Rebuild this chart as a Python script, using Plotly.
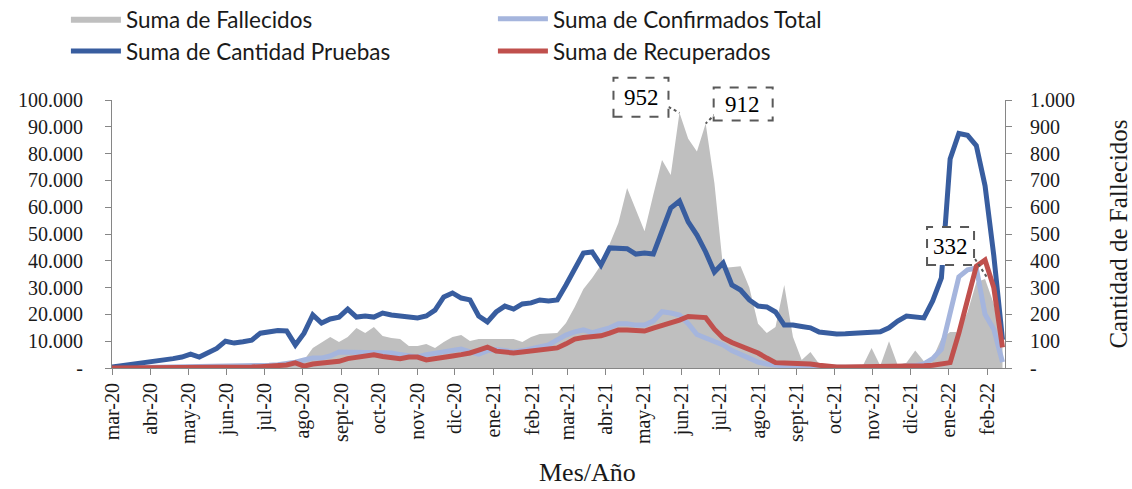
import pandas as pd
import plotly.graph_objects as go

# ---------------- data (weekly) ----------------
fechas = pd.date_range("2020-03-01", periods=103, freq="7D")

fallecidos = [0, 0, 0, 1, 1, 2, 2, 3, 3, 4, 4, 5, 5, 6, 6, 7, 7, 8, 8, 9, 9,
              12, 30, 75, 95, 116, 97, 116, 149, 131, 153, 119, 112, 108, 82, 82,
              90, 75, 97, 116, 123, 101, 108, 108, 108, 110, 108, 97, 116, 127, 130,
              131, 168, 228, 295, 336, 384, 460, 541, 672, 590, 510, 646, 776, 720,
              952, 855, 808, 912, 690, 373, 377, 380, 300, 165, 131, 153, 310, 116,
              30, 60, 15, 10, 5, 10, 5, 8, 75, 8, 100, 10, 20, 65, 25, 35, 110, 134,
              134, 209, 320, 332, 240, 80]

confirmados = [0, 30, 60, 100, 150, 200, 250, 300, 350, 400, 450, 500, 550, 600, 650,
               700, 800, 900, 1000, 1200, 1500, 2200, 3000, 3700, 3700, 4500, 6000,
               6000, 5800, 5600, 5800, 6000, 5600, 5000, 4600, 4100, 5000, 5600, 6200,
               6700, 7100, 6000, 5200, 6500, 6900, 6500, 6000, 6500, 7100, 7800, 8600,
               10500, 12300, 13500, 14200, 13200, 14200, 15000, 16500, 16500, 16000,
               16000, 17500, 21000, 20500, 19800, 16500, 12500, 11200, 10000, 8600,
               6500, 5000, 3500, 2200, 1500, 1000, 600, 400, 300, 250, 200, 200, 200,
               200, 200, 200, 200, 250, 300, 400, 600, 900, 1500, 3500, 7000, 21000,
               34000, 36600, 37300, 20000, 14500, 2200]

pruebas = [400, 800, 1400, 1900, 2200, 2500, 2900, 3500, 4100, 5200, 4100, 5600, 7300,
           10000, 9300, 9800, 10400, 13000, 13300, 14000, 13800, 8600, 13000, 19800,
           16800, 18300, 19000, 22000, 19000, 19400, 19000, 20500, 19800, 19500, 18900,
           18700, 19400, 21600, 26500, 28000, 26100, 25400, 19400, 17200, 20900, 23100,
           22000, 23900, 24300, 25400, 25000, 25400, 31000, 37300, 42900, 43300, 38400,
           44800, 44800, 44500, 42500, 42900, 42500, 50700, 59700, 62300, 54500, 49600,
           43300, 35800, 39200, 31000, 29100, 25400, 23100, 22800, 20900, 16000, 16000,
           15500, 15000, 13400, 13000, 12700, 12800, 13000, 13000, 13300, 13500, 15000,
           17500, 19400, 19000, 18700, 25000, 33600, 78000, 87500, 86800, 83000, 68000,
           42000, 10500]

recuperados = [0, 0, 0, 50, 50, 100, 100, 100, 150, 150, 200, 200, 200, 250, 300, 300,
               350, 500, 800, 1100, 1100, 1900, 700, 1500, 1900, 2000, 2500, 3500, 4000,
               4500, 4900, 4300, 3800, 3500, 4100, 4100, 3000, 3400, 3700, 4500, 5000,
               5600, 6700, 7800, 6300, 6000, 5600, 6000, 6300, 6700, 7000, 7500, 9000,
               10800, 11400, 11600, 12000, 13000, 14200, 14200, 13900, 13800, 14900,
               15800, 16800, 17900, 19200, 19200, 18800, 14500, 11200, 9500, 8200, 6700,
               5600, 3700, 2000, 1900, 1900, 1800, 1500, 1000, 600, 400, 400, 400, 400,
               400, 400, 500, 500, 600, 700, 800, 1000, 1500, 2000, 13000, 26000, 38000,
               40300, 30000, 7700]

meses_vals = pd.date_range("2020-03-01", "2022-02-01", freq="MS")
meses_txt = ["mar-20", "abr-20", "may-20", "jun-20", "jul-20", "ago-20", "sept-20",
             "oct-20", "nov-20", "dic-20", "ene-21", "feb-21", "mar-21", "abr-21",
             "may-21", "jun-21", "jul-21", "ago-21", "sept-21", "oct-21", "nov-21",
             "dic-21", "ene-22", "feb-22"]

izq_vals = [0, 10000, 20000, 30000, 40000, 50000, 60000, 70000, 80000, 90000, 100000]
izq_txt = ["-", "10.000", "20.000", "30.000", "40.000", "50.000", "60.000", "70.000",
           "80.000", "90.000", "100.000"]
der_vals = [0, 100, 200, 300, 400, 500, 600, 700, 800, 900, 1000]
der_txt = ["-", "100", "200", "300", "400", "500", "600", "700", "800", "900", "1.000"]
DER_MAX = 1000

# ---------------- figure ----------------
SERIF = "Liberation Serif"
SANS = "Lato"
AXC = "#868686"
TXT = "#1a1a1a"

fig = go.Figure()
fig.add_trace(go.Scatter(x=fechas, y=fallecidos, name="Suma de Fallecidos", mode="lines",
                         fill="tozeroy", fillcolor="#BFBFBF",
                         line=dict(width=0, color="#BFBFBF"), yaxis="y"))
fig.add_trace(go.Scatter(x=fechas, y=confirmados, name="Suma de Confirmados Total",
                         mode="lines", line=dict(width=5, color="#A5B5DD"), yaxis="y2"))
fig.add_trace(go.Scatter(x=fechas, y=pruebas, name="Suma de Cantidad Pruebas",
                         mode="lines", line=dict(width=5, color="#385D9F"), yaxis="y2"))
fig.add_trace(go.Scatter(x=fechas, y=recuperados, name="Suma de Recuperados",
                         mode="lines", line=dict(width=5, color="#C0504D"), yaxis="y2"))

axis_common = dict(showline=True, linecolor=AXC, linewidth=1, ticks="outside",
                   ticklen=6, tickcolor=AXC, showgrid=False, zeroline=False)

fig.update_layout(
    width=1132, height=489,
    margin=dict(l=112, r=127, t=100, b=121, autoexpand=False),
    paper_bgcolor="white", plot_bgcolor="white",
    showlegend=True,
    legend=dict(orientation="h", x=-0.0516, y=1.382, xanchor="left", yanchor="top",
                entrywidth=362, entrywidthmode="pixels", itemwidth=50,
                font=dict(family=SANS, size=22.5, color=TXT),
                bgcolor="rgba(0,0,0,0)", traceorder="normal"),
    xaxis=dict(type="date", range=["2020-03-01", "2022-02-15"],
               tickmode="array", tickvals=list(meses_vals), ticktext=meses_txt,
               tickangle=-90, tickfont=dict(family=SERIF, size=20, color=TXT),
               **axis_common),
    yaxis=dict(side="right", range=[0, DER_MAX], tickmode="array", tickvals=der_vals,
               ticktext=der_txt, tickfont=dict(family=SERIF, size=20, color=TXT),
               ticklabelstandoff=14,
               title=dict(text="Cantidad de Fallecidos",
                          font=dict(family=SERIF, size=25, color=TXT), standoff=38),
               **axis_common),
    yaxis2=dict(side="left", overlaying="y", range=[0, 100000], tickmode="array",
                tickvals=izq_vals, ticktext=izq_txt,
                tickfont=dict(family=SERIF, size=20, color=TXT),
                ticklabelstandoff=18, **axis_common),
)

# x-axis title (placed like the original, slightly right of centre)
fig.add_annotation(text="Mes/Año", xref="paper", yref="paper", x=0.533, y=-0.39,
                   xanchor="center", yanchor="middle", showarrow=False,
                   font=dict(family=SERIF, size=26, color=TXT))

# callouts with dashed boxes, anchored to the data points
BOXC = "#595959"
callouts = [
    # index, box x0,x1,y0,y1 (px offsets), text shift, leader line
    (65, (-66, -11, -4, 35), (-38, 15), (-11, 6, 0, 0)),
    (68, (8, 67, 3, 36), (37, 19), (10, 10, 0, 0)),
    (100, (-58, -11, 14, 52), (-35, 33), (-10, 20, 3, 0)),
]
for idx, (bx0, bx1, by0, by1), (tx, ty), (lx0, ly0, lx1, ly1) in callouts:
    xa = fechas[idx]
    ya = fallecidos[idx]
    yp = ya / DER_MAX  # same point on the paper-fraction scale of the right axis
    fig.add_shape(type="line", xref="x", yref="paper", xsizemode="pixel",
                  ysizemode="pixel", xanchor=xa, yanchor=yp,
                  x0=lx0, y0=ly0, x1=lx1, y1=ly1,
                  line=dict(color=BOXC, width=2, dash="dot"))
    fig.add_shape(type="rect", xref="x", yref="paper", xsizemode="pixel",
                  ysizemode="pixel", xanchor=xa, yanchor=yp,
                  x0=bx0, x1=bx1, y0=by0, y1=by1,
                  line=dict(color=BOXC, width=2, dash="dash"), fillcolor="white")
    fig.add_annotation(x=xa, y=ya, xref="x", yref="y", text=f"{ya}", showarrow=False,
                       xshift=tx, yshift=ty,
                       font=dict(family=SERIF, size=23, color="black"))

fig.write_html("out.html", config={"displayModeBar": False},
               post_script="document.body.style.margin='0';")
